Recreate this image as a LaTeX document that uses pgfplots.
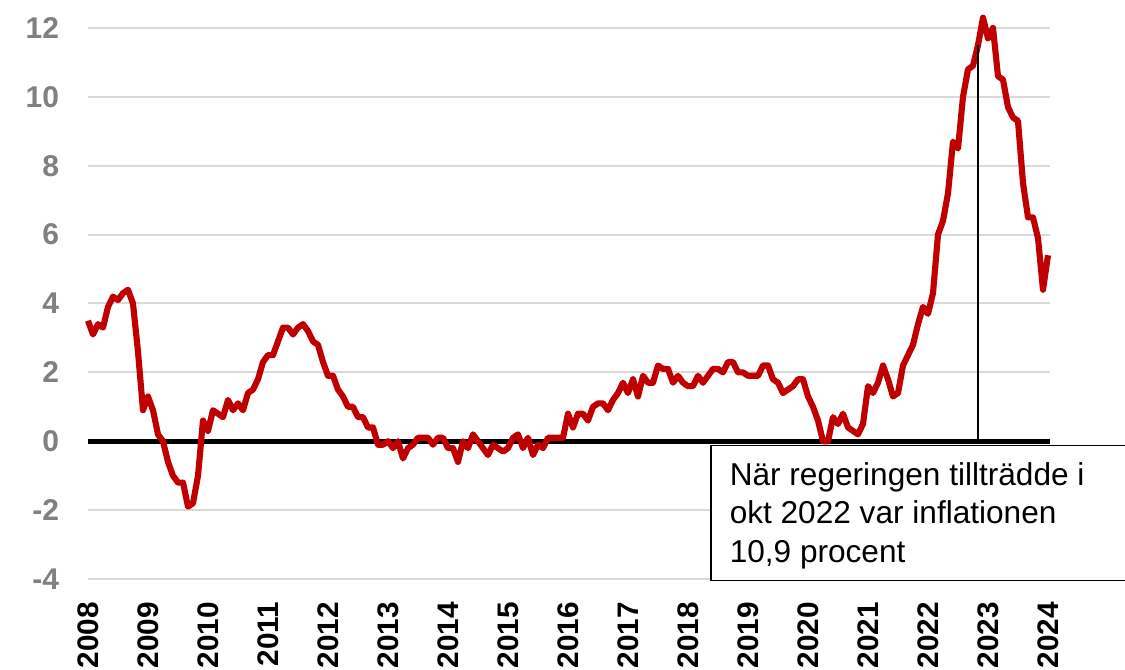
\documentclass[border=0pt]{standalone}
\usepackage{pgfplots}
\usepackage{pgfplotstable}
\usepackage{fontspec}
\pgfplotsset{compat=1.18}
\setmainfont{Liberation Sans}

\definecolor{infred}{HTML}{C00000}
\definecolor{tickgray}{HTML}{808080}
\definecolor{gridgray}{HTML}{D9D9D9}

% KPI, årlig förändring i procent, månadsvis jan 2008 - jan 2024
\pgfplotstableread[row sep=\\, header=false]{
3.5\\ 3.1\\ 3.4\\ 3.3\\ 3.9\\ 4.2\\ 4.1\\ 4.3\\ 4.4\\ 4.0\\ 2.6\\ 0.9\\
1.3\\ 0.9\\ 0.2\\ 0.0\\ -0.6\\ -1.0\\ -1.2\\ -1.2\\ -1.9\\ -1.8\\ -1.0\\ 0.6\\
0.3\\ 0.9\\ 0.8\\ 0.7\\ 1.2\\ 0.9\\ 1.1\\ 0.9\\ 1.4\\ 1.5\\ 1.8\\ 2.3\\
2.5\\ 2.5\\ 2.9\\ 3.3\\ 3.3\\ 3.1\\ 3.3\\ 3.4\\ 3.2\\ 2.9\\ 2.8\\ 2.3\\
1.9\\ 1.9\\ 1.5\\ 1.3\\ 1.0\\ 1.0\\ 0.7\\ 0.7\\ 0.4\\ 0.4\\ -0.1\\ -0.1\\
0.0\\ -0.2\\ 0.0\\ -0.5\\ -0.2\\ -0.1\\ 0.1\\ 0.1\\ 0.1\\ -0.1\\ 0.1\\ 0.1\\
-0.2\\ -0.2\\ -0.6\\ 0.0\\ -0.2\\ 0.2\\ 0.0\\ -0.2\\ -0.4\\ -0.1\\ -0.2\\ -0.3\\
-0.2\\ 0.1\\ 0.2\\ -0.2\\ 0.1\\ -0.4\\ -0.1\\ -0.2\\ 0.1\\ 0.1\\ 0.1\\ 0.1\\
0.8\\ 0.4\\ 0.8\\ 0.8\\ 0.6\\ 1.0\\ 1.1\\ 1.1\\ 0.9\\ 1.2\\ 1.4\\ 1.7\\
1.4\\ 1.8\\ 1.3\\ 1.9\\ 1.7\\ 1.7\\ 2.2\\ 2.1\\ 2.1\\ 1.7\\ 1.9\\ 1.7\\
1.6\\ 1.6\\ 1.9\\ 1.7\\ 1.9\\ 2.1\\ 2.1\\ 2.0\\ 2.3\\ 2.3\\ 2.0\\ 2.0\\
1.9\\ 1.9\\ 1.9\\ 2.2\\ 2.2\\ 1.8\\ 1.7\\ 1.4\\ 1.5\\ 1.6\\ 1.8\\ 1.8\\
1.3\\ 1.0\\ 0.6\\ 0.0\\ 0.0\\ 0.7\\ 0.5\\ 0.8\\ 0.4\\ 0.3\\ 0.2\\ 0.5\\
1.6\\ 1.4\\ 1.7\\ 2.2\\ 1.8\\ 1.3\\ 1.4\\ 2.2\\ 2.5\\ 2.8\\ 3.4\\ 3.9\\
3.7\\ 4.3\\ 6.0\\ 6.4\\ 7.2\\ 8.7\\ 8.5\\ 10.0\\ 10.8\\ 10.9\\ 11.5\\ 12.3\\
11.7\\ 12.0\\ 10.6\\ 10.5\\ 9.7\\ 9.4\\ 9.3\\ 7.5\\ 6.5\\ 6.5\\ 5.9\\ 4.4\\
5.4\\
}\kpi

\begin{document}
\begin{tikzpicture}
\useasboundingbox (-66pt,-68.25pt) rectangle (777.75pt,434.25pt);
\begin{axis}[
    scale only axis,
    width=721.5pt,
    height=413.25pt,
    xmin=0, xmax=192.4,
    ymin=-4, ymax=12,
    clip=false,
    axis line style={draw=none},
    major tick length=0pt,
    xtick={0,12,...,192},
    xticklabels={2008,2009,2010,2011,2012,2013,2014,2015,2016,2017,2018,2019,2020,2021,2022,2023,2024},
    ytick={-4,-2,...,12},
    yticklabels={-4,-2,0,2,4,6,8,10,12},
    ymajorgrids,
    grid style={gridgray, line width=1.5pt},
    yticklabel style={font=\fontsize{22.5}{26}\selectfont\bfseries, text=tickgray, inner xsep=21.5pt},
    xticklabel style={font=\fontsize{22.3}{26}\selectfont\bfseries, rotate=90, anchor=east, inner xsep=17pt},
]
\draw[black, line width=3.75pt] (axis cs:0,0) -- (axis cs:192.4,0);
\addplot[infred, line width=4.6pt, line join=round, mark=none] table[x expr=\coordindex, y index=0] {\kpi};
\draw[black, line width=1.1pt] (axis cs:178,0) -- (axis cs:178,11.5);
\draw[black, line width=1.1pt, fill=white] (axis cs:124.6,-0.13) rectangle (axis cs:208,-4.04);
\begin{scope}[every node/.style={anchor=base west, inner sep=0pt, font=\fontsize{23.7}{28}\selectfont}]
\node at (axis cs:128.3,-1.28) {När regeringen tillträdde i};
\node at (axis cs:128.3,-2.38) {okt 2022 var inflationen};
\node at (axis cs:128.3,-3.52) {10,9 procent};
\end{scope}
\end{axis}
\end{tikzpicture}
\end{document}
